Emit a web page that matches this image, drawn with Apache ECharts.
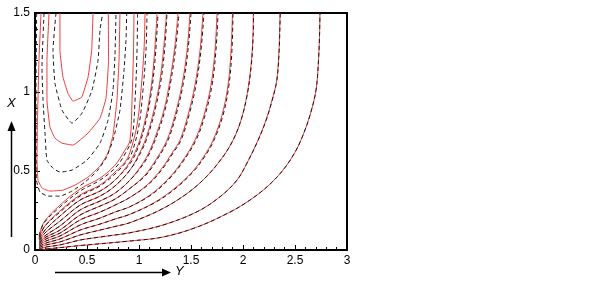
<!DOCTYPE html>
<html><head><meta charset="utf-8">
<script src="https://cdn.jsdelivr.net/npm/echarts@6/dist/echarts.min.js"></script>
<style>html,body{margin:0;padding:0;background:#fff}#c{width:602px;height:281px}</style>
</head><body><div id="c"></div>
<script>
// Axis settings (data units)
const xRange = [0, 3];
const yRange = [0, 1.5];
const xTitle = 'Y';
const yTitle = 'X';

// Red solid contours: recirculation loops (upper left)
const redU1 = [[0.240,1.5],[0.240,1.264],[0.269,1.094],[0.317,0.992],[0.365,0.942],[0.449,0.967],[0.510,1.094],[0.545,1.264],[0.558,1.5]];
const redU2 = [[0.135,1.5],[0.115,1.201],[0.115,0.948],[0.144,0.778],[0.192,0.708],[0.260,0.676],[0.365,0.664],[0.510,0.740],[0.625,0.834],[0.683,0.961],[0.707,1.201],[0.705,1.5]];
const redU3 = [[0.058,1.5],[0.038,1.201],[0.024,0.822],[0.019,0.569],[0.029,0.442],[0.067,0.392],[0.144,0.373],[0.269,0.379],[0.385,0.411],[0.510,0.461],[0.625,0.531],[0.702,0.613],[0.750,0.727],[0.788,0.948],[0.808,1.201],[0.817,1.5]];
// Red solid contours: fan from the corner
const redF1 = [[0.040,0.090],[0.087,0.177],[0.240,0.284],[0.433,0.386],[0.625,0.455],[0.769,0.537],[0.865,0.632],[0.913,0.695],[0.933,0.948],[0.947,1.264],[0.952,1.5]];
const redF2 = [[0.040,0.080],[0.096,0.152],[0.240,0.247],[0.433,0.348],[0.625,0.411],[0.769,0.493],[0.865,0.556],[0.913,0.619],[0.981,0.790],[1.019,1.011],[1.048,1.264],[1.058,1.5]];
const redF3 = [[0.040,0.072],[0.106,0.133],[0.240,0.215],[0.433,0.316],[0.625,0.373],[0.769,0.442],[0.913,0.558],[0.990,0.664],[1.048,0.790],[1.106,0.980],[1.144,1.201],[1.173,1.5]];
const redF4 = [[0.040,0.064],[0.106,0.114],[0.240,0.183],[0.433,0.284],[0.625,0.341],[0.769,0.405],[0.913,0.506],[1.010,0.619],[1.077,0.727],[1.144,0.885],[1.202,1.075],[1.240,1.296],[1.264,1.5]];
const redF5 = [[0.040,0.056],[0.106,0.095],[0.240,0.152],[0.433,0.253],[0.625,0.310],[0.769,0.360],[0.913,0.442],[1.038,0.550],[1.106,0.632],[1.163,0.727],[1.240,0.885],[1.298,1.075],[1.346,1.296],[1.375,1.5]];
const redF6 = [[0.040,0.048],[0.106,0.082],[0.240,0.126],[0.433,0.221],[0.625,0.278],[0.769,0.322],[0.913,0.390],[1.058,0.474],[1.173,0.582],[1.269,0.695],[1.346,0.853],[1.413,1.043],[1.462,1.264],[1.490,1.5]];
const redF7 = [[0.040,0.040],[0.106,0.070],[0.240,0.107],[0.433,0.190],[0.625,0.240],[0.769,0.284],[0.913,0.333],[1.087,0.417],[1.221,0.518],[1.317,0.613],[1.394,0.695],[1.471,0.853],[1.538,1.043],[1.587,1.264],[1.615,1.5]];
const redF8 = [[0.040,0.032],[0.106,0.057],[0.240,0.0885],[0.433,0.158],[0.625,0.202],[0.769,0.240],[0.913,0.274],[1.106,0.348],[1.269,0.442],[1.404,0.550],[1.538,0.695],[1.625,0.853],[1.692,1.043],[1.731,1.264],[1.750,1.5]];
const redF9 = [[0.040,0.024],[0.106,0.044],[0.240,0.070],[0.433,0.126],[0.625,0.164],[0.769,0.196],[0.913,0.226],[1.154,0.303],[1.346,0.392],[1.510,0.493],[1.625,0.594],[1.712,0.695],[1.798,0.853],[1.856,1.043],[1.885,1.264],[1.899,1.5]];
const redF10 = [[0.040,0.016],[0.106,0.032],[0.240,0.051],[0.433,0.095],[0.625,0.126],[0.769,0.149],[0.913,0.173],[1.202,0.253],[1.442,0.348],[1.635,0.455],[1.798,0.582],[1.904,0.695],[1.981,0.822],[2.038,0.980],[2.077,1.169],[2.096,1.359],[2.099,1.5]];
const redF11 = [[0.040,0.008],[0.106,0.019],[0.240,0.032],[0.433,0.063],[0.625,0.082],[0.769,0.095],[0.913,0.109],[1.231,0.158],[1.558,0.242],[1.779,0.337],[1.942,0.442],[2.038,0.550],[2.144,0.695],[2.221,0.822],[2.279,0.948],[2.324,1.075],[2.346,1.264],[2.356,1.5]];
const redF12 = [[0.040,0.002],[0.106,0.006],[0.433,0.028],[0.913,0.057],[1.231,0.082],[1.558,0.145],[1.875,0.240],[2.067,0.316],[2.240,0.405],[2.385,0.506],[2.500,0.619],[2.577,0.727],[2.644,0.853],[2.702,1.011],[2.726,1.201],[2.736,1.359],[2.740,1.5]];

// Black dashed contours
const blkU1 = [[0.202,1.5],[0.173,1.264],[0.192,1.056],[0.260,0.885],[0.356,0.803],[0.452,0.866],[0.548,1.011],[0.606,1.201],[0.625,1.391],[0.651,1.5]];
const blkU2 = [[0.087,1.5],[0.067,1.157],[0.077,0.948],[0.096,0.740],[0.115,0.569],[0.173,0.518],[0.240,0.493],[0.356,0.506],[0.500,0.569],[0.625,0.676],[0.702,0.822],[0.750,1.011],[0.769,1.233],[0.779,1.5]];
const blkU3 = [[0.016,1.5],[0.010,1.075],[0.010,0.632],[0.014,0.442],[0.048,0.367],[0.125,0.341],[0.240,0.341],[0.356,0.373],[0.481,0.430],[0.596,0.499],[0.683,0.582],[0.750,0.695],[0.817,0.885],[0.856,1.138],[0.875,1.327],[0.882,1.5]];
const blkF1 = [[0.040,0.092],[0.087,0.171],[0.240,0.272],[0.433,0.373],[0.625,0.442],[0.779,0.525],[0.875,0.619],[0.933,0.708],[0.962,0.948],[0.981,1.264],[0.986,1.5]];
const blkF2 = [[0.040,0.081],[0.096,0.152],[0.240,0.240],[0.433,0.341],[0.625,0.405],[0.779,0.487],[0.875,0.556],[0.933,0.619],[1.000,0.790],[1.038,1.011],[1.067,1.264],[1.077,1.5]];
const blkF3 = [[0.040,0.072],[0.106,0.133],[0.240,0.215],[0.433,0.316],[0.625,0.373],[0.769,0.442],[0.923,0.556],[1.000,0.664],[1.058,0.790],[1.115,0.980],[1.154,1.201],[1.183,1.5]];
const blkF4 = [[0.040,0.064],[0.106,0.114],[0.240,0.183],[0.433,0.284],[0.625,0.341],[0.769,0.405],[0.913,0.506],[1.019,0.619],[1.087,0.727],[1.154,0.885],[1.212,1.075],[1.250,1.296],[1.269,1.5]];
const blkF5 = [[0.040,0.056],[0.106,0.095],[0.240,0.152],[0.433,0.253],[0.625,0.310],[0.769,0.360],[0.913,0.442],[1.048,0.550],[1.115,0.632],[1.173,0.727],[1.250,0.885],[1.308,1.075],[1.356,1.296],[1.385,1.5]];
const blkF6 = [[0.040,0.048],[0.106,0.082],[0.240,0.126],[0.433,0.221],[0.625,0.278],[0.769,0.322],[0.913,0.390],[1.067,0.474],[1.183,0.582],[1.279,0.695],[1.356,0.853],[1.423,1.043],[1.471,1.264],[1.500,1.5]];
const blkF7 = [[0.040,0.040],[0.106,0.070],[0.240,0.107],[0.433,0.190],[0.625,0.240],[0.769,0.284],[0.913,0.333],[1.096,0.417],[1.231,0.518],[1.327,0.613],[1.404,0.695],[1.481,0.853],[1.548,1.043],[1.596,1.264],[1.625,1.5]];
const blkF8 = [[0.040,0.032],[0.106,0.057],[0.240,0.0885],[0.433,0.158],[0.625,0.202],[0.769,0.240],[0.913,0.274],[1.115,0.348],[1.279,0.442],[1.413,0.550],[1.548,0.695],[1.635,0.853],[1.702,1.043],[1.740,1.264],[1.760,1.5]];
const blkF9 = [[0.040,0.024],[0.106,0.044],[0.240,0.070],[0.433,0.126],[0.625,0.164],[0.769,0.196],[0.913,0.226],[1.163,0.303],[1.356,0.392],[1.519,0.493],[1.635,0.594],[1.721,0.695],[1.808,0.853],[1.865,1.043],[1.894,1.264],[1.904,1.5]];
const blkF10 = [[0.040,0.016],[0.106,0.032],[0.240,0.051],[0.433,0.095],[0.625,0.126],[0.769,0.149],[0.913,0.173],[1.202,0.253],[1.442,0.348],[1.635,0.455],[1.798,0.582],[1.904,0.695],[1.981,0.822],[2.040,0.980],[2.080,1.169],[2.098,1.359],[2.101,1.5]];
const blkF11 = [[0.040,0.008],[0.106,0.019],[0.240,0.032],[0.433,0.063],[0.625,0.082],[0.769,0.095],[0.913,0.109],[1.231,0.158],[1.558,0.242],[1.779,0.337],[1.942,0.442],[2.038,0.550],[2.146,0.695],[2.223,0.822],[2.281,0.948],[2.326,1.075],[2.348,1.264],[2.358,1.5]];
const blkF12 = [[0.040,0.002],[0.106,0.006],[0.433,0.028],[0.913,0.057],[1.231,0.082],[1.558,0.145],[1.875,0.240],[2.067,0.316],[2.240,0.405],[2.385,0.506],[2.500,0.619],[2.577,0.727],[2.644,0.853],[2.702,1.011],[2.726,1.201],[2.736,1.359],[2.740,1.5]];

const redLoops = [redU1, redU2, redU3];
const redFan = [redF1, redF2, redF3, redF4, redF5, redF6, redF7, redF8, redF9, redF10, redF11, redF12];
const blackLoops = [blkU1, blkU2, blkU3];
const blackFan = [blkF1, blkF2, blkF3, blkF4, blkF5, blkF6, blkF7, blkF8, blkF9, blkF10, blkF11, blkF12];

const series = [];
function addLines(list, smooth, style, z) {
  list.forEach(d => series.push({
    type: 'line', data: d, showSymbol: false, smooth: smooth, silent: true, z: z, lineStyle: style
  }));
}
const redStyle = { color: '#ee3b3b', width: 1 };
const blackStyle = { color: '#1a1a1a', width: 1, type: [4, 3] };
addLines(redLoops, 0.1, redStyle, 2);
addLines(redFan, 0.35, redStyle, 2);
addLines(blackLoops, 0.15, blackStyle, 3);
addLines(blackFan, 0.35, blackStyle, 3);

const axisCommon = {
  type: 'value',
  interval: 0.5,
  axisLine: { show: true, lineStyle: { color: '#000', width: 2 } },
  axisTick: { show: true, inside: true, length: 5, lineStyle: { color: '#000', width: 1 } },
  minorTick: { show: true, splitNumber: 5, length: 3, lineStyle: { color: '#000', width: 1 } },
  splitLine: { show: false },
  axisLabel: { color: '#000', fontSize: 12, fontFamily: 'Liberation Sans, Arial, sans-serif', margin: 5 }
};

const chart = echarts.init(document.getElementById('c'), null, { renderer: 'canvas' });
chart.setOption({
  animation: false,
  backgroundColor: '#fff',
  grid: { left: 35, top: 13, right: 255, bottom: 31, show: true, borderColor: '#000', borderWidth: 2, backgroundColor: 'transparent' },
  xAxis: Object.assign({}, axisCommon, { min: xRange[0], max: xRange[1] }),
  yAxis: Object.assign({}, axisCommon, { min: yRange[0], max: yRange[1] }),
  series: series,
  graphic: [
    { type: 'line', shape: { x1: 11.5, y1: 237, x2: 11.5, y2: 130 }, style: { stroke: '#000', lineWidth: 1.5 } },
    { type: 'polygon', shape: { points: [[7.5, 131], [15.5, 131], [11.5, 121]] }, style: { fill: '#000' } },
    { type: 'text', left: 7, top: 97, style: { text: yTitle, font: 'italic 13px "Liberation Sans", Arial, sans-serif', fill: '#000' } },
    { type: 'line', shape: { x1: 55, y1: 272.5, x2: 163, y2: 272.5 }, style: { stroke: '#000', lineWidth: 1.5 } },
    { type: 'polygon', shape: { points: [[162, 268.5], [162, 276.5], [171, 272.5]] }, style: { fill: '#000' } },
    { type: 'text', left: 175, top: 265, style: { text: xTitle, font: 'italic 13px "Liberation Sans", Arial, sans-serif', fill: '#000' } }
  ]
});
</script>
</body></html>
